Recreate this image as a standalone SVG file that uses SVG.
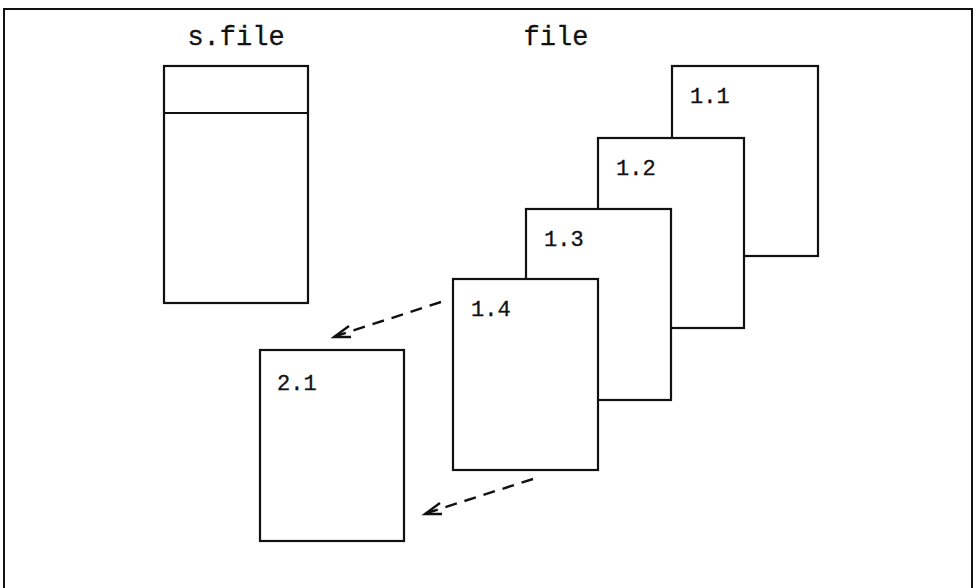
<svg xmlns="http://www.w3.org/2000/svg" width="977" height="588" viewBox="0 0 977 588">
<style>
.box{fill:#fff;stroke:#111;stroke-width:2.2}
.lbl{font-family:"Liberation Mono","Courier New",monospace;font-size:22px;fill:#111;stroke:#111;stroke-width:0.3}
.ttl{font-family:"Liberation Mono","Courier New",monospace;font-size:27px;fill:#111;stroke:#111;stroke-width:0.3}
.dash{fill:none;stroke:#111;stroke-width:2.4;stroke-dasharray:12 8}
.head{fill:none;stroke:#111;stroke-width:2.4}
</style>
<rect width="977" height="588" fill="#fff"/>
<path d="M4,592 V9 H972 V592" fill="none" stroke="#111" stroke-width="2"/>
<text class="ttl" x="236" y="45" text-anchor="middle">s.file</text>
<text class="ttl" x="556" y="45" text-anchor="middle">file</text>
<g id="sfile">
<rect class="box" x="164" y="66" width="144" height="237"/>
<line x1="164" y1="113" x2="308" y2="113" stroke="#111" stroke-width="2.2"/>
</g>
<g id="v11"><rect class="box" x="672" y="66" width="146" height="190"/><text class="lbl" x="690" y="103">1.1</text></g>
<g id="v12"><rect class="box" x="598" y="138" width="146" height="190"/><text class="lbl" x="616" y="175">1.2</text></g>
<g id="v13"><rect class="box" x="526" y="209" width="145" height="191"/><text class="lbl" x="544" y="246">1.3</text></g>
<g id="v14"><rect class="box" x="453" y="279" width="145" height="191"/><text class="lbl" x="471" y="316">1.4</text></g>
<g id="v21"><rect class="box" x="260" y="350" width="144" height="191"/><text class="lbl" x="277" y="390">2.1</text></g>
<g id="connectors">
<line class="dash" x1="441" y1="302" x2="336" y2="336"/>
<path class="head" d="M349,326 L334,337 L351,337"/>
<line class="dash" x1="533" y1="479" x2="427" y2="513"/>
<path class="head" d="M440,503 L425,514 L442,514"/>
</g>
</svg>
